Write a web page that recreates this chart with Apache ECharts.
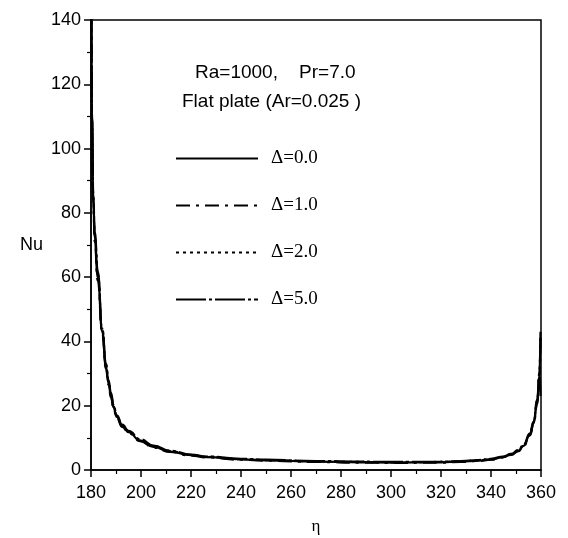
<!DOCTYPE html>
<html>
<head>
<meta charset="utf-8">
<script src="https://cdn.jsdelivr.net/npm/echarts@6/dist/echarts.min.js"></script>
<style>html,body{margin:0;padding:0;background:#fff}#c{width:568px;height:538px}</style>
</head>
<body>
<div id="c"></div>
<script>
// Data
const seriesNames = ['\u0394=0.0', '\u0394=1.0', '\u0394=2.0', '\u0394=5.0'];
const eta = [180.15, 180.4, 180.9, 181.5, 182.7, 184.5, 186, 187, 188, 189, 190.3, 192.5, 195, 199.6, 205, 211.6, 220, 226.3, 240, 250, 270, 288, 300, 320, 328, 335, 340, 345, 348, 351, 353, 355.6, 357, 358.5, 359.3, 359.8];
const nu0 = [150, 110, 84, 72, 60, 43, 32, 27, 23, 19.5, 16.5, 13.7, 11.8, 9.2, 7.2, 5.7, 4.6, 4.0, 3.3, 3.0, 2.6, 2.4, 2.3, 2.4, 2.6, 2.9, 3.3, 4.0, 4.8, 6.0, 7.5, 11, 14.5, 21, 29, 43];
const nu1 = [150, 108, 83, 71, 59, 42.5, 31.5, 26.5, 22.5, 19.2, 16.2, 13.4, 11.5, 9.0, 7.0, 5.6, 4.5, 3.9, 3.2, 2.9, 2.5, 2.3, 2.2, 2.3, 2.5, 2.8, 3.2, 3.9, 4.7, 5.9, 7.4, 10.8, 14.2, 20.5, 28, 41];
const nu2 = [150, 109, 85, 73, 61, 43.5, 32.5, 27.5, 23.5, 19.8, 16.8, 13.9, 12.0, 9.4, 7.4, 5.8, 4.7, 4.1, 3.4, 3.1, 2.7, 2.5, 2.4, 2.5, 2.7, 3.0, 3.4, 4.1, 4.9, 6.1, 7.6, 11.2, 14.8, 21.5, 29.5, 42];
const nu5 = [150, 112, 86, 74, 62, 44, 33, 28, 24, 20.2, 17, 14.1, 12.2, 9.6, 7.6, 6.0, 4.8, 4.2, 3.5, 3.2, 2.8, 2.6, 2.5, 2.6, 2.8, 3.1, 3.5, 4.2, 5.0, 6.2, 7.8, 11.4, 15, 22, 30, 23];
const xTicks = [180, 360, 20];
const yTicks = [0, 140, 20];

const allNu = [nu0, nu1, nu2, nu5];
const dashes = ['solid', [14, 6, 3, 6], [3, 4], [30, 3, 3, 3]];

const chart = echarts.init(document.getElementById('c'), null, {renderer: 'canvas'});
function axisCommon(margin) {
  return {
    axisLine: {show: true, onZero: false, lineStyle: {color: '#000', width: 1.5}},
    axisTick: {show: true, inside: false, length: 7, lineStyle: {color: '#000', width: 1.5}},
    minorTick: {show: true, splitNumber: 2, length: 4, lineStyle: {color: '#000', width: 1.2}},
    splitLine: {show: false},
    axisLabel: {color: '#000', fontFamily: 'Liberation Sans, Arial, sans-serif', fontSize: 18, margin: margin}
  };
}
chart.setOption({
  animation: false,
  backgroundColor: '#fff',
  grid: {left: 91, right: 27, top: 20, bottom: 68, outerBoundsMode: 'none', containLabel: false, show: true, borderColor: '#000', borderWidth: 1.5, backgroundColor: 'transparent'},
  xAxis: Object.assign({
    type: 'value', min: xTicks[0], max: xTicks[1], interval: xTicks[2],
    name: '\u03b7', nameLocation: 'middle', nameGap: 48,
    nameTextStyle: {color: '#000', fontFamily: 'Liberation Serif, serif', fontSize: 17}
  }, axisCommon(14)),
  yAxis: Object.assign({
    type: 'value', min: yTicks[0], max: yTicks[1], interval: yTicks[2],
    name: 'Nu', nameLocation: 'middle', nameRotate: 0, nameGap: 48,
    nameTextStyle: {color: '#000', fontFamily: 'Liberation Sans, Arial, sans-serif', fontSize: 18, padding: [0, 0, 38, 0]}
  }, axisCommon(10)),
  legend: {
    show: true, orient: 'vertical', left: 170, top: 144,
    itemWidth: 82, itemHeight: 14, itemGap: 28,
    data: seriesNames,
    itemStyle: {color: 'transparent', borderColor: 'transparent', borderWidth: 0},
    textStyle: {color: '#000', fontFamily: 'Liberation Serif, Times New Roman, serif', fontSize: 19, padding: [0, 0, 0, 8]}
  },
  graphic: [
    {type: 'text', left: 195, top: 63, style: {text: 'Ra=1000,    Pr=7.0', fill: '#000', font: '19px "Liberation Sans", Arial, sans-serif'}},
    {type: 'text', left: 182, top: 92, style: {text: 'Flat plate (Ar=0.025 )', fill: '#000', font: '19px "Liberation Sans", Arial, sans-serif'}}
  ],
  series: seriesNames.map((n, i) => ({
    name: n, type: 'line', symbol: 'none', smooth: 0.5, smoothMonotone: 'x', clip: true,
    data: eta.map((e, k) => [e, allNu[i][k]]),
    lineStyle: {color: '#000', width: 2.2, type: dashes[i]},
    itemStyle: {color: '#000'}
  }))
});
</script>
</body>
</html>
